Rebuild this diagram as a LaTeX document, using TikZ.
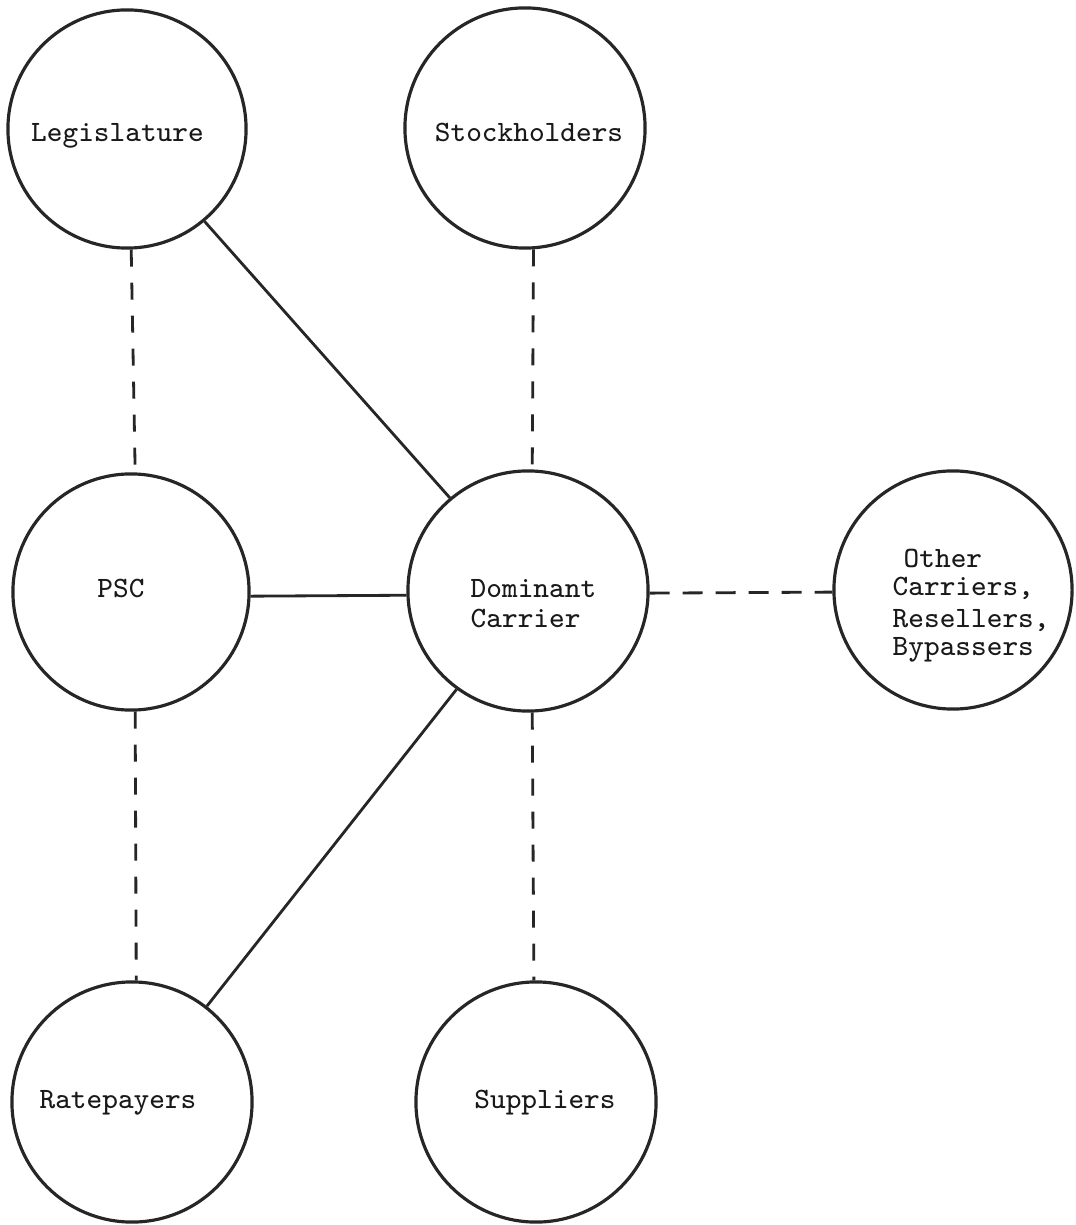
\documentclass[tikz,border=0pt]{standalone}
\begin{document}
\begin{tikzpicture}[x=0.01cm,y=-0.01cm,
  ent/.style={circle,draw=black!85,line width=0.9pt,inner sep=0pt},
  lbl/.style={font=\fontsize{8.4}{8.4}\selectfont\ttfamily,inner sep=0pt,text=black!90},
  solidlink/.style={draw=black!85,line width=0.8pt},
  vdash/.style={draw=black!85,line width=0.8pt,dash pattern=on 0.17cm off 0.16cm},
  hdash/.style={draw=black!85,line width=0.8pt,dash pattern=on 0.2cm off 0.13cm}]
\useasboundingbox (0,0) rectangle (1075,1225);
\fill[white] (0,0) rectangle (1075,1225);

\node[ent,minimum size=2.38cm] (leg) at (127,129) {};
\node[ent,minimum size=2.40cm] (stock) at (525,128) {};
\node[ent,minimum size=2.36cm] (psc) at (131,592) {};
\node[ent,minimum size=2.40cm] (dom) at (528,591) {};
\node[ent,minimum size=2.38cm] (oth) at (953,590) {};
\node[ent,minimum size=2.40cm] (rate) at (132,1102) {};
\node[ent,minimum size=2.40cm] (supp) at (536,1102) {};

\node[lbl,anchor=base] (leg-t) at (117.5,142) {Legislature};
\node[lbl,anchor=base] (stock-t) at (529,142) {Stockholders};
\node[lbl,anchor=base] (psc-t) at (121,597) {PSC};
\node[lbl,anchor=base west] (dom-t1) at (470,597) {Dominant};
\node[lbl,anchor=base west] (dom-t2) at (470,627) {Carrier};
\node[lbl,anchor=base west] (oth-t1) at (903,567) {Other};
\node[lbl,anchor=base west] (oth-t2) at (892,595) {Carriers,};
\node[lbl,anchor=base west] (oth-t3) at (892,627) {Resellers,};
\node[lbl,anchor=base west] (oth-t4) at (892,655) {Bypassers};
\node[lbl,anchor=base] (rate-t) at (118,1108) {Ratepayers};
\node[lbl,anchor=base] (supp-t) at (545,1108) {Suppliers};

\draw[vdash] (leg.-88) -- (psc.88);
\draw[solidlink] (leg.-50.7) -- (dom.130.7);
\draw[vdash] (stock.-86.7) -- (dom.88);
\draw[solidlink] (psc.-2) -- (dom.182);
\draw[hdash] (dom.-1) -- (oth.181.5);
\draw[solidlink] (dom.-126.2) -- (rate.52.5);
\draw[vdash] (psc.-88) -- (rate.88);
\draw[vdash] (dom.-88) -- (supp.91.5);
\end{tikzpicture}
\end{document}
